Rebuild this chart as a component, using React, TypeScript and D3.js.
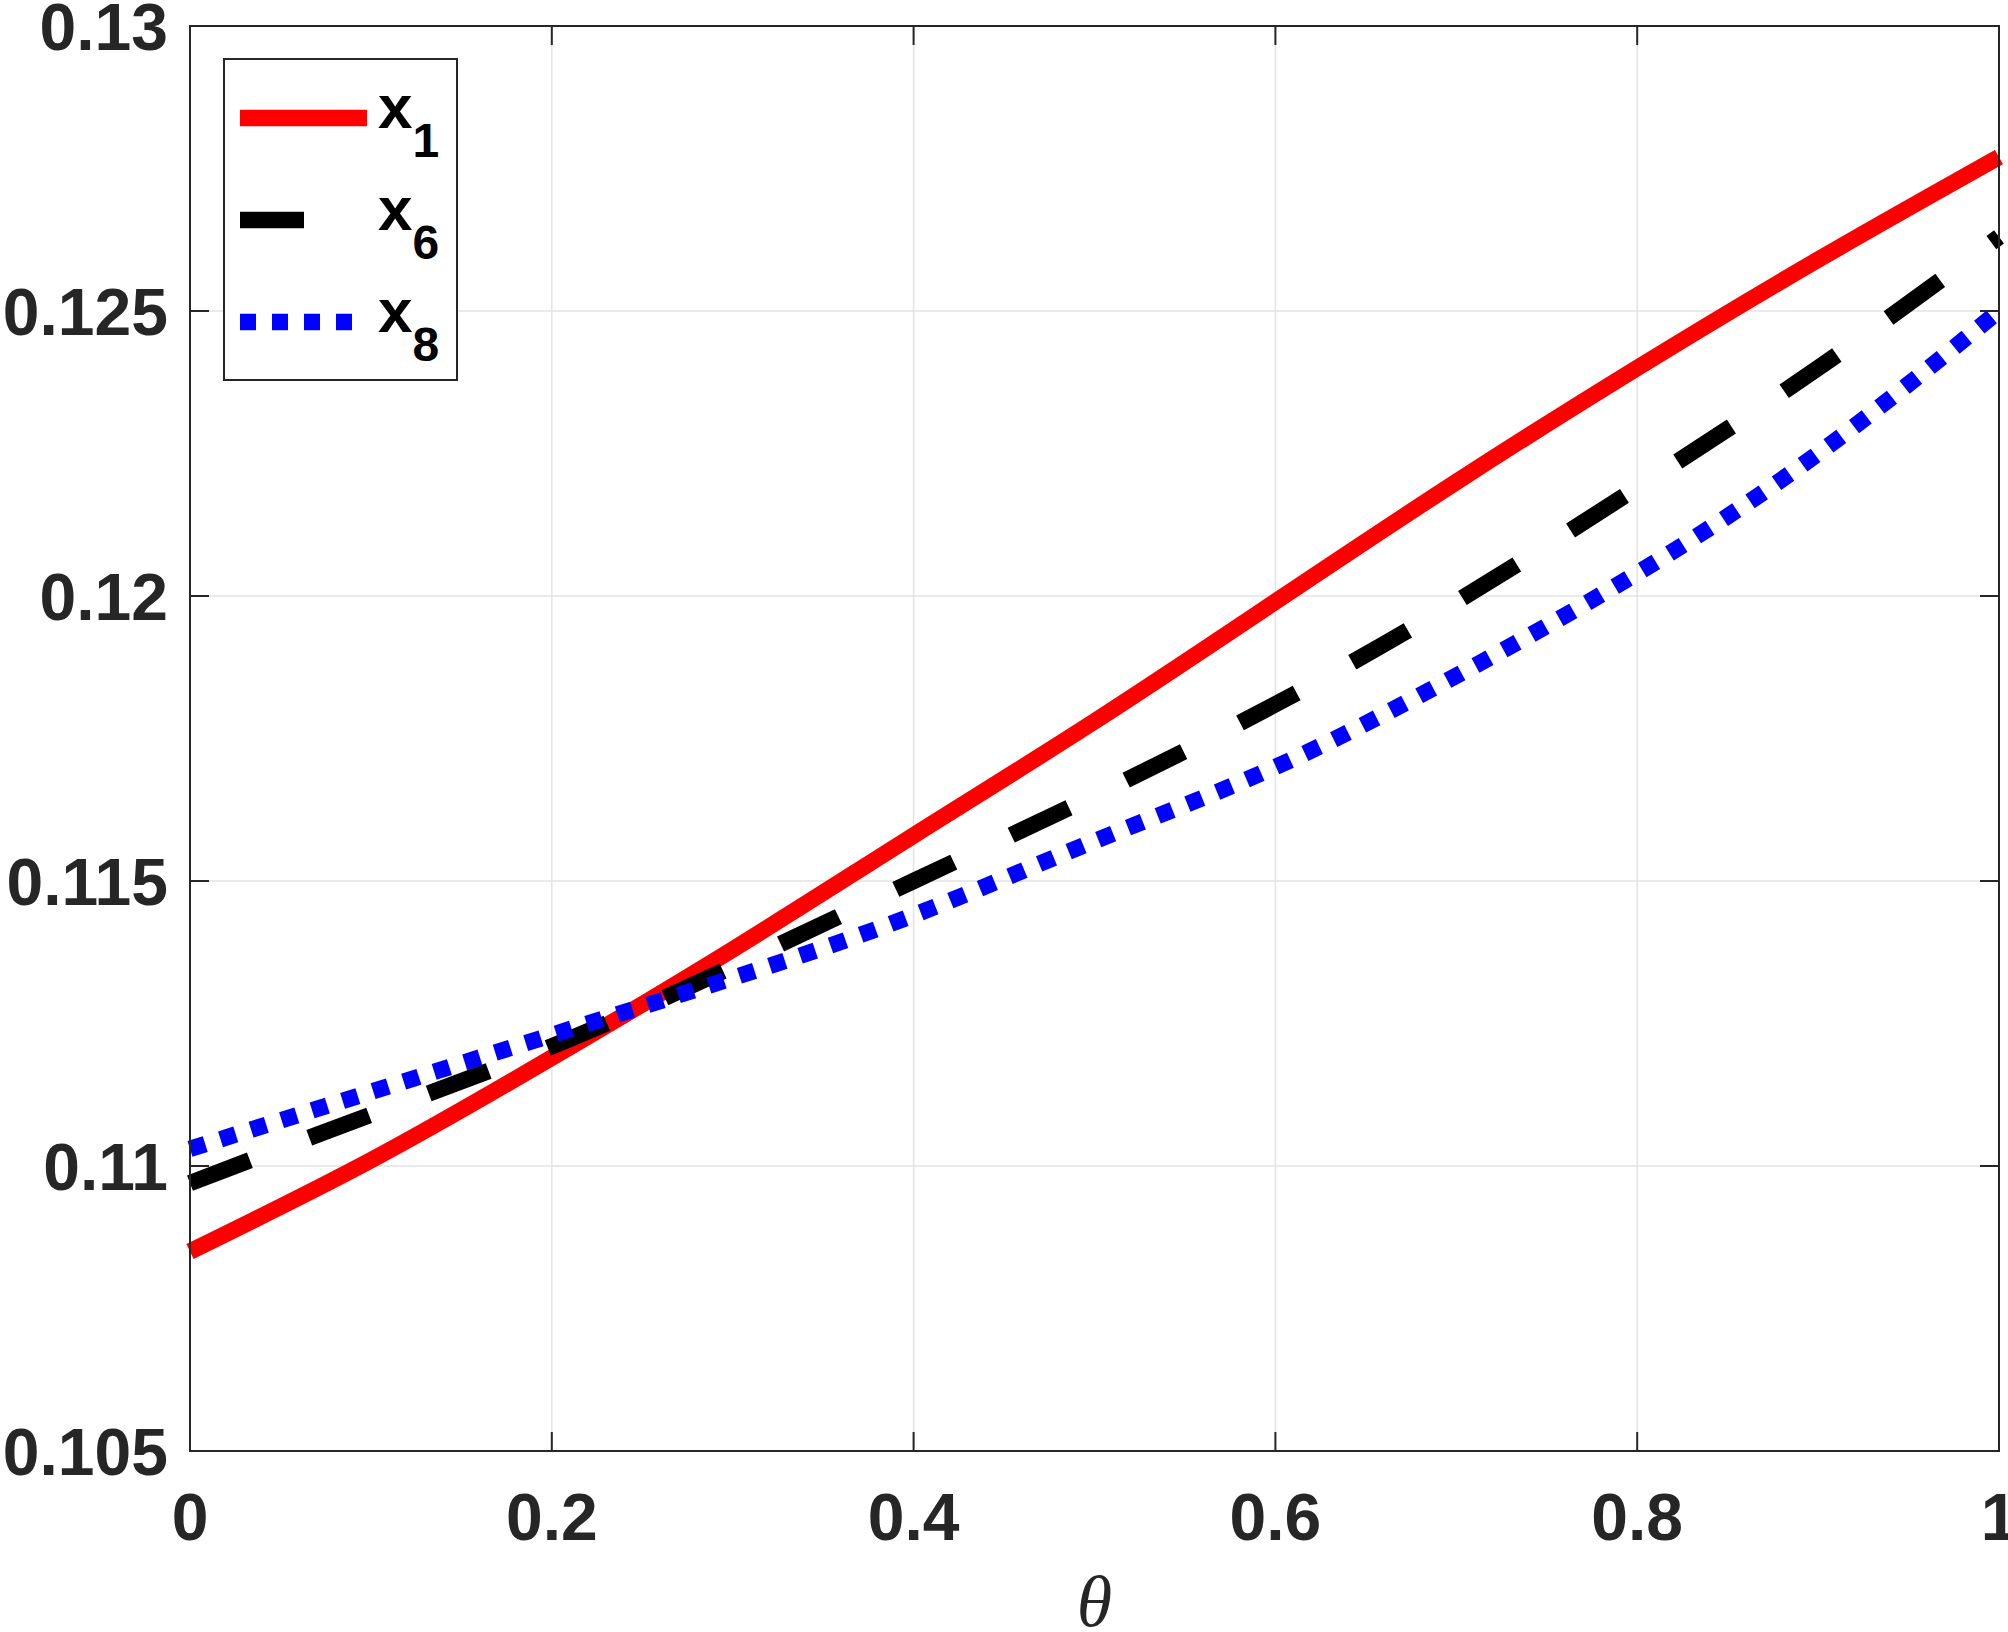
import React, { useEffect } from "react";
import * as d3 from "d3";

// values
const theta = [0, 0.1, 0.2, 0.3, 0.4, 0.5, 0.6, 0.7, 0.8, 0.9, 1.0];
const x1 = [0.1085, 0.1101, 0.1119, 0.1138, 0.1158, 0.1178, 0.1199, 0.122, 0.124, 0.1259, 0.1277];
const x6 = [0.1097, 0.1109, 0.1121, 0.1135, 0.115, 0.1165, 0.1181, 0.1199, 0.1219, 0.124, 0.1263];
const x8 = [0.1103, 0.1113, 0.1123, 0.1133, 0.1144, 0.1157, 0.117, 0.1186, 0.1204, 0.1225, 0.125];
const xTicks = [0, 0.2, 0.4, 0.6, 0.8, 1];
const yTicks = [0.105, 0.11, 0.115, 0.12, 0.125, 0.13];
const seriesNames = ["1", "6", "8"];

const W = 2008;
const H = 1632;
const M = { left: 190, right: 1999, top: 26, bottom: 1451 };
const AX = "#262626";
const FONT = "'Liberation Sans', Arial, Helvetica, sans-serif";

export default function App() {
  useEffect(() => {
    document.body.style.margin = "0";
  }, []);

  const x = d3.scaleLinear().domain([0, 1]).range([M.left, M.right]);
  const y = d3.scaleLinear().domain([0.105, 0.13]).range([M.bottom, M.top]);

  const line = d3
    .line<number>()
    .x((_, i) => x(theta[i]))
    .y((d) => y(d))
    .curve(d3.curveNatural);

  const styles = [
    { data: x1, color: "#ff0000", dash: undefined as string | undefined },
    { data: x6, color: "#000000", dash: "64 63.5" },
    { data: x8, color: "#0000ff", dash: "16 16" },
  ];

  const tickLen = 19;
  const legend = { x0: 224, y0: 59, x1: 457, y1: 380 };
  const rowY = [118, 220, 322];

  return (
    <svg width={W} height={H} style={{ display: "block", background: "#fff" }}>
      <rect x={0} y={0} width={W} height={H} fill="#fff" />
      {/* grid */}
      <g stroke="#e3e3e3" strokeWidth={1.5}>
        {xTicks.slice(1, -1).map((t) => (
          <line key={"gx" + t} x1={x(t)} x2={x(t)} y1={M.top} y2={M.bottom} />
        ))}
        {yTicks.slice(1, -1).map((t) => (
          <line key={"gy" + t} x1={M.left} x2={M.right} y1={y(t)} y2={y(t)} />
        ))}
      </g>

      {/* series */}
      {styles.map((s, i) => (
        <path
          key={i}
          d={line(s.data) || ""}
          fill="none"
          stroke={s.color}
          strokeWidth={16.5}
          strokeDasharray={s.dash}
          strokeLinecap="butt"
        />
      ))}

      {/* axes box and ticks */}
      <g stroke={AX} strokeWidth={2} fill="none">
        <rect x={M.left} y={M.top} width={M.right - M.left} height={M.bottom - M.top} />
        {xTicks.map((t) => (
          <g key={"tx" + t}>
            <line x1={x(t)} x2={x(t)} y1={M.bottom} y2={M.bottom - tickLen} />
            <line x1={x(t)} x2={x(t)} y1={M.top} y2={M.top + tickLen} />
          </g>
        ))}
        {yTicks.map((t) => (
          <g key={"ty" + t}>
            <line x1={M.left} x2={M.left + tickLen} y1={y(t)} y2={y(t)} />
            <line x1={M.right} x2={M.right - tickLen} y1={y(t)} y2={y(t)} />
          </g>
        ))}
      </g>

      {/* tick labels */}
      <g fontFamily={FONT} fontWeight="bold" fontSize={66} fill={AX}>
        {xTicks.map((t) => (
          <text key={"lx" + t} x={x(t)} y={1540} textAnchor="middle">
            {String(t)}
          </text>
        ))}
        {yTicks.map((t) => (
          <text key={"ly" + t} x={168} y={y(t) + 24} textAnchor="end">
            {String(t)}
          </text>
        ))}
      </g>

      {/* axis label */}
      <text
        x={(M.left + M.right) / 2}
        y={1626}
        textAnchor="middle"
        fontFamily="'Liberation Serif', 'Times New Roman', serif"
        fontStyle="italic"
        fontSize={72}
        fill={AX}
      >
        θ
      </text>

      {/* legend */}
      <g>
        <rect
          x={legend.x0}
          y={legend.y0}
          width={legend.x1 - legend.x0}
          height={legend.y1 - legend.y0}
          fill="#fff"
          stroke={AX}
          strokeWidth={2}
        />
        {styles.map((s, i) => (
          <g key={"lg" + i}>
            <line
              x1={240}
              x2={367}
              y1={rowY[i]}
              y2={rowY[i]}
              stroke={s.color}
              strokeWidth={16.5}
              strokeDasharray={s.dash}
            />
            <text x={378} y={rowY[i] + 10} fontFamily={FONT} fontWeight="bold" fontSize={62} fill="#000">
              x
              <tspan fontSize={48} dy={29}>
                {seriesNames[i]}
              </tspan>
            </text>
          </g>
        ))}
      </g>
    </svg>
  );
}
